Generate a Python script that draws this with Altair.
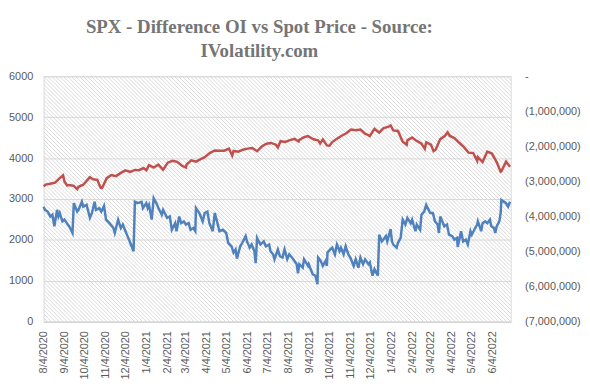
import altair as alt
import pandas as pd

TITLE = ["SPX - Difference OI vs Spot Price - Source:", "IVolatility.com"]

spot_dates = [
    "2020/08/04", "2020/08/07", "2020/08/14", "2020/08/21", "2020/08/28", "2020/09/02", "2020/09/04",
    "2020/09/08", "2020/09/11", "2020/09/18", "2020/09/23", "2020/09/25", "2020/10/02", "2020/10/09",
    "2020/10/12", "2020/10/16", "2020/10/23", "2020/10/28", "2020/10/30", "2020/11/06", "2020/11/13",
    "2020/11/20", "2020/11/27", "2020/12/04", "2020/12/11", "2020/12/18", "2020/12/24", "2020/12/31",
    "2021/01/04", "2021/01/08", "2021/01/15", "2021/01/22", "2021/01/29", "2021/02/05", "2021/02/12",
    "2021/02/19", "2021/02/26", "2021/03/04", "2021/03/05", "2021/03/12", "2021/03/19", "2021/03/26",
    "2021/04/01", "2021/04/09", "2021/04/16", "2021/04/23", "2021/04/30", "2021/05/07", "2021/05/12",
    "2021/05/14", "2021/05/21", "2021/05/28", "2021/06/04", "2021/06/11", "2021/06/18", "2021/06/25",
    "2021/07/02", "2021/07/09", "2021/07/16", "2021/07/19", "2021/07/23", "2021/07/30", "2021/08/06",
    "2021/08/13", "2021/08/19", "2021/08/20", "2021/08/27", "2021/09/02", "2021/09/10", "2021/09/17",
    "2021/09/20", "2021/09/24", "2021/09/30", "2021/10/04", "2021/10/08", "2021/10/15", "2021/10/22",
    "2021/10/29", "2021/11/05", "2021/11/12", "2021/11/19", "2021/11/26", "2021/11/30", "2021/12/03",
    "2021/12/10", "2021/12/17", "2021/12/23", "2021/12/31", "2022/01/03", "2022/01/07", "2022/01/14",
    "2022/01/21", "2022/01/27", "2022/01/28", "2022/02/04", "2022/02/11", "2022/02/18", "2022/02/23",
    "2022/02/25", "2022/03/04", "2022/03/08", "2022/03/11", "2022/03/18", "2022/03/25", "2022/03/29",
    "2022/04/01", "2022/04/08", "2022/04/14", "2022/04/22", "2022/04/29", "2022/05/06", "2022/05/12",
    "2022/05/13", "2022/05/20", "2022/05/27", "2022/06/03", "2022/06/10", "2022/06/16", "2022/06/17",
    "2022/06/24", "2022/06/30",
]
spot_values = [
    3306, 3351, 3373, 3397, 3508, 3580, 3427,
    3332, 3341, 3319, 3237, 3298, 3348, 3477,
    3534, 3484, 3465, 3271, 3270, 3510, 3585,
    3558, 3638, 3699, 3663, 3709, 3703, 3756,
    3700, 3825, 3768, 3841, 3714, 3887, 3934,
    3907, 3811, 3768, 3842, 3943, 3913, 3975,
    4020, 4129, 4185, 4180, 4181, 4233, 4063,
    4174, 4156, 4204, 4230, 4247, 4166, 4281,
    4352, 4370, 4327, 4258, 4412, 4395, 4437,
    4468, 4406, 4442, 4509, 4537, 4459, 4433,
    4358, 4455, 4308, 4300, 4391, 4471, 4545,
    4605, 4697, 4682, 4698, 4595, 4567, 4538,
    4712, 4620, 4725, 4766, 4797, 4677, 4663,
    4398, 4326, 4432, 4501, 4419, 4349, 4225,
    4385, 4329, 4170, 4204, 4463, 4543, 4631,
    4546, 4488, 4393, 4272, 4132, 4123, 3930,
    4024, 3901, 4158, 4109, 3901, 3666, 3675,
    3912, 3785,
]

oi_dates = [
    "2020/08/04", "2020/08/06", "2020/08/10", "2020/08/14", "2020/08/17", "2020/08/20", "2020/08/24",
    "2020/08/26", "2020/08/28", "2020/09/01", "2020/09/04", "2020/09/09", "2020/09/11", "2020/09/16",
    "2020/09/18", "2020/09/23", "2020/09/25", "2020/09/30", "2020/10/02", "2020/10/07", "2020/10/12",
    "2020/10/15", "2020/10/19", "2020/10/21", "2020/10/26", "2020/10/29", "2020/11/02", "2020/11/05",
    "2020/11/10", "2020/11/16", "2020/11/18", "2020/11/23", "2020/11/27", "2020/11/30", "2020/12/04",
    "2020/12/07", "2020/12/11", "2020/12/16", "2020/12/18", "2020/12/22", "2020/12/28", "2020/12/30",
    "2021/01/04", "2021/01/06", "2021/01/08", "2021/01/12", "2021/01/15", "2021/01/19", "2021/01/22",
    "2021/01/27", "2021/01/29", "2021/02/04", "2021/02/08", "2021/02/11", "2021/02/16", "2021/02/18",
    "2021/02/22", "2021/02/25", "2021/03/01", "2021/03/04", "2021/03/08", "2021/03/11", "2021/03/15",
    "2021/03/18", "2021/03/19", "2021/03/24", "2021/03/29", "2021/04/01", "2021/04/05", "2021/04/08",
    "2021/04/13", "2021/04/16", "2021/04/20", "2021/04/23", "2021/04/28", "2021/05/03", "2021/05/06",
    "2021/05/11", "2021/05/14", "2021/05/17", "2021/05/19", "2021/05/24", "2021/05/27", "2021/06/01",
    "2021/06/03", "2021/06/07", "2021/06/10", "2021/06/14", "2021/06/16", "2021/06/18", "2021/06/23",
    "2021/06/28", "2021/07/01", "2021/07/06", "2021/07/08", "2021/07/12", "2021/07/14", "2021/07/19",
    "2021/07/22", "2021/07/26", "2021/07/29", "2021/08/02", "2021/08/05", "2021/08/09", "2021/08/11",
    "2021/08/16", "2021/08/18", "2021/08/20", "2021/08/25", "2021/08/27", "2021/09/02", "2021/09/03",
    "2021/09/09", "2021/09/13", "2021/09/16", "2021/09/17", "2021/09/21", "2021/09/24", "2021/09/28",
    "2021/09/30", "2021/10/01", "2021/10/05", "2021/10/08", "2021/10/12", "2021/10/15", "2021/10/19",
    "2021/10/21", "2021/10/25", "2021/10/28", "2021/11/01", "2021/11/04", "2021/11/09", "2021/11/12",
    "2021/11/16", "2021/11/19", "2021/11/23", "2021/11/26", "2021/12/01", "2021/12/03", "2021/12/07",
    "2021/12/10", "2021/12/15", "2021/12/17", "2021/12/21", "2021/12/27", "2021/12/29", "2022/01/03",
    "2022/01/05", "2022/01/07", "2022/01/12", "2022/01/14", "2022/01/18", "2022/01/21", "2022/01/25",
    "2022/01/28", "2022/02/02", "2022/02/04", "2022/02/09", "2022/02/11", "2022/02/16", "2022/02/18",
    "2022/02/22", "2022/02/25", "2022/03/03", "2022/03/07", "2022/03/10", "2022/03/14", "2022/03/16",
    "2022/03/18", "2022/03/24", "2022/03/28", "2022/03/31", "2022/04/05", "2022/04/08", "2022/04/12",
    "2022/04/13", "2022/04/18", "2022/04/21", "2022/04/25", "2022/04/28", "2022/05/02", "2022/05/04",
    "2022/05/09", "2022/05/12", "2022/05/13", "2022/05/18", "2022/05/20", "2022/05/24", "2022/05/27",
    "2022/05/31", "2022/06/02", "2022/06/06", "2022/06/08", "2022/06/10", "2022/06/14", "2022/06/16",
    "2022/06/17", "2022/06/24", "2022/06/27", "2022/06/30",
]
oi_values = [
    -3720000, -3810000, -3860000, -4000000, -3950000, -4280000, -3810000,
    -4000000, -3900000, -4140000, -4090000, -4230000, -4280000, -4470000,
    -3620000, -3860000, -3810000, -3580000, -3720000, -3670000, -4040000,
    -3900000, -3580000, -3810000, -3760000, -3860000, -3700000, -4090000,
    -4190000, -4330000, -4470000, -4090000, -4330000, -4230000, -4420000,
    -4560000, -4750000, -4990000, -3580000, -3620000, -3580000, -3760000,
    -3620000, -3760000, -3670000, -4090000, -3480000, -3620000, -3760000,
    -3950000, -3810000, -4040000, -4000000, -4380000, -4190000, -4420000,
    -4000000, -4190000, -4140000, -4230000, -4190000, -4380000, -4330000,
    -4420000, -3760000, -3900000, -4140000, -3900000, -3860000, -4190000,
    -4420000, -3900000, -4190000, -4420000, -4380000, -4470000, -4750000,
    -4850000, -5030000, -4940000, -5200000, -4850000, -4750000, -4560000,
    -4710000, -4890000, -4800000, -4990000, -5330000, -4610000, -4800000,
    -4710000, -4850000, -4800000, -4990000, -5080000, -5220000, -4940000,
    -5130000, -5170000, -4940000, -5220000, -5080000, -5170000, -5220000,
    -5360000, -5620000, -5360000, -5460000, -5220000, -5410000, -5360000,
    -5650000, -5690000, -5930000, -5170000, -5270000, -5410000, -5270000,
    -5410000, -5030000, -4940000, -4890000, -5080000, -4800000, -4990000,
    -4890000, -5080000, -4850000, -5080000, -5170000, -5410000, -5220000,
    -5460000, -5170000, -5360000, -5220000, -5360000, -5310000, -5690000,
    -5500000, -5690000, -4520000, -4710000, -4560000, -4710000, -4360000,
    -4710000, -4800000, -4890000, -4750000, -4610000, -4090000, -4230000,
    -4040000, -4190000, -4090000, -4420000, -4230000, -4380000, -3950000,
    -3860000, -3670000, -3900000, -3900000, -4140000, -4230000, -4470000,
    -4000000, -4280000, -4230000, -4520000, -4560000, -4660000, -4610000,
    -4870000, -4420000, -4710000, -4660000, -4800000, -4420000, -4520000,
    -4330000, -4230000, -4140000, -4420000, -4190000, -4140000, -4190000,
    -4090000, -4280000, -4330000, -4470000, -4280000, -4140000, -3900000,
    -3530000, -3620000, -3720000, -3580000,
]

x_tick_dates = [
    (2020, 8), (2020, 9), (2020, 10), (2020, 11), (2020, 12),
    (2021, 1), (2021, 2), (2021, 3), (2021, 4), (2021, 5), (2021, 6), (2021, 7),
    (2021, 8), (2021, 9), (2021, 10), (2021, 11), (2021, 12),
    (2022, 1), (2022, 2), (2022, 3), (2022, 4), (2022, 5), (2022, 6),
]
left_ticks = [0, 1000, 2000, 3000, 4000, 5000, 6000]
right_ticks = [0, -1000000, -2000000, -3000000, -4000000, -5000000, -6000000, -7000000]

spot_df = pd.DataFrame({"date": spot_dates, "price": spot_values})
oi_df = pd.DataFrame({"date": oi_dates, "oi": oi_values})

FONT = "Liberation Sans"
LABEL_COLOR = "#595959"
W, H = 472, 248

x_enc = alt.X(
    "date:T",
    scale=alt.Scale(domain=[alt.DateTime(year=2020, month=8, date=4),
                            alt.DateTime(year=2022, month=7, date=1)]),
    axis=alt.Axis(
        title=None,
        values=[alt.DateTime(year=y, month=m, date=4) for y, m in x_tick_dates],
        format="%-m/%-d/%Y",
        labelAngle=270,
        labelFont=FONT, labelFontSize=11, labelColor=LABEL_COLOR,
        labelPadding=9, ticks=False, grid=False, labelOverlap=False,
        domainColor="#d0d0d0", domainWidth=1,
    ),
)

# decorative diagonal hatch of the plot area (pixel space, no data)
hatch = (
    alt.Chart(alt.sequence(0, 182, as_="k"))
    .transform_calculate(hx0="datum.k * 4 - height", hx1="datum.k * 4", hy0="0", hy1="height")
    .mark_rule(color="#d4d4d4", strokeWidth=0.9, clip=True)
    .encode(
        x=alt.X("hx0:Q", scale=None, axis=None),
        x2="hx1:Q",
        y=alt.Y("hy0:Q", scale=None, axis=None),
        y2="hy1:Q",
    )
)

spot = alt.Chart(spot_df).mark_line(color="#c0504d", strokeWidth=2.5).encode(
    x=x_enc,
    y=alt.Y(
        "price:Q",
        scale=alt.Scale(domain=[0, 6000], nice=False),
        axis=alt.Axis(
            title=None, orient="left", values=left_ticks, format="d",
            labelFont=FONT, labelFontSize=11, labelColor=LABEL_COLOR,
            labelPadding=11, ticks=False, domain=False,
            grid=True, gridColor="#d9d9d9", gridWidth=1,
        ),
    ),
)

oi = alt.Chart(oi_df).mark_line(color="#4f81bd", strokeWidth=2.5).encode(
    x=x_enc,
    y=alt.Y(
        "oi:Q",
        scale=alt.Scale(domain=[-7000000, 0], nice=False, zero=False),
        axis=alt.Axis(
            title=None, orient="right", values=right_ticks,
            labelExpr="datum.value == 0 ? '-' : '(' + format(abs(datum.value), ',') + ')'",
            labelFont=FONT, labelFontSize=11, labelColor=LABEL_COLOR,
            labelPadding=14, ticks=False, domain=False, grid=False,
        ),
    ),
)

chart = (
    alt.layer(hatch, spot, oi)
    .resolve_scale(y="independent")
    .properties(
        width=W, height=H,
        padding={"left": 36, "top": 67, "right": 72, "bottom": 59},
        autosize=alt.AutoSizeParams(type="none"),
        title=alt.TitleParams(
            text=TITLE, font="Liberation Serif", fontSize=19, fontWeight="bold",
            color="#757575", anchor="middle", frame="group", dx=-18, offset=9,
            lineHeight=25,
        ),
    )
    .configure_view(stroke=None)
    .configure(background="#ffffff")
)

chart.save("out.html", embed_options={"renderer": "svg", "actions": False})
